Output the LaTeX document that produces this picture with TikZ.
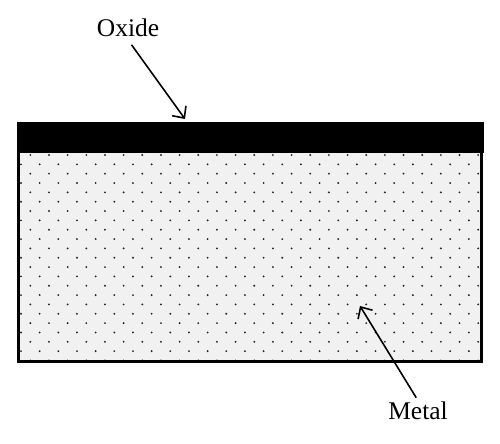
\documentclass[tikz,border=0pt]{standalone}
\usepackage{fontspec}
\setmainfont{Liberation Serif}
\usetikzlibrary{arrows.meta,positioning}

\begin{document}
\begin{tikzpicture}[>={Straight Barb[length=1.8mm,width=3.4mm]},line width=0.9pt]
  \tikzstyle{label}=[font=\fontsize{14.5}{16}\selectfont,inner sep=2pt]
  \tikzstyle{dot}=[fill=black!85]
  \useasboundingbox (0,0) rectangle (10,8.86);

  % Layers
  \fill[gray!11] (0.37,1.63) rectangle (9.63,5.82);
  \foreach \i in {0,...,49}
    \foreach \j in {0,...,22}{
      \pgfmathparse{int(mod(\i+\j,2))}
      \ifnum\pgfmathresult=1
        \fill[dot] (0.42+0.1866*\i,5.76-0.1868*\j) circle (0.021);
      \fi
    }
  \draw[line width=1.8pt] (0.37,5.82) -- (0.37,1.63) -- (9.63,1.63) -- (9.63,5.82);
  \fill[black] (0.34,5.80) rectangle (9.68,6.42);

  % Labels
  \node[label] (oxide) at (2.56,8.3) {Oxide};
  \node[label] (metal) at (8.36,0.64) {Metal};
  \coordinate (oxtip) at (3.70,6.48);
  \coordinate (mettip) at (7.20,2.74);

  % Arrows
  \draw[->] ([xshift=2pt,yshift=-2pt]oxide.south) -- (oxtip);
  \draw[->] ([xshift=-1pt]metal.north) -- (mettip);
\end{tikzpicture}
\end{document}
